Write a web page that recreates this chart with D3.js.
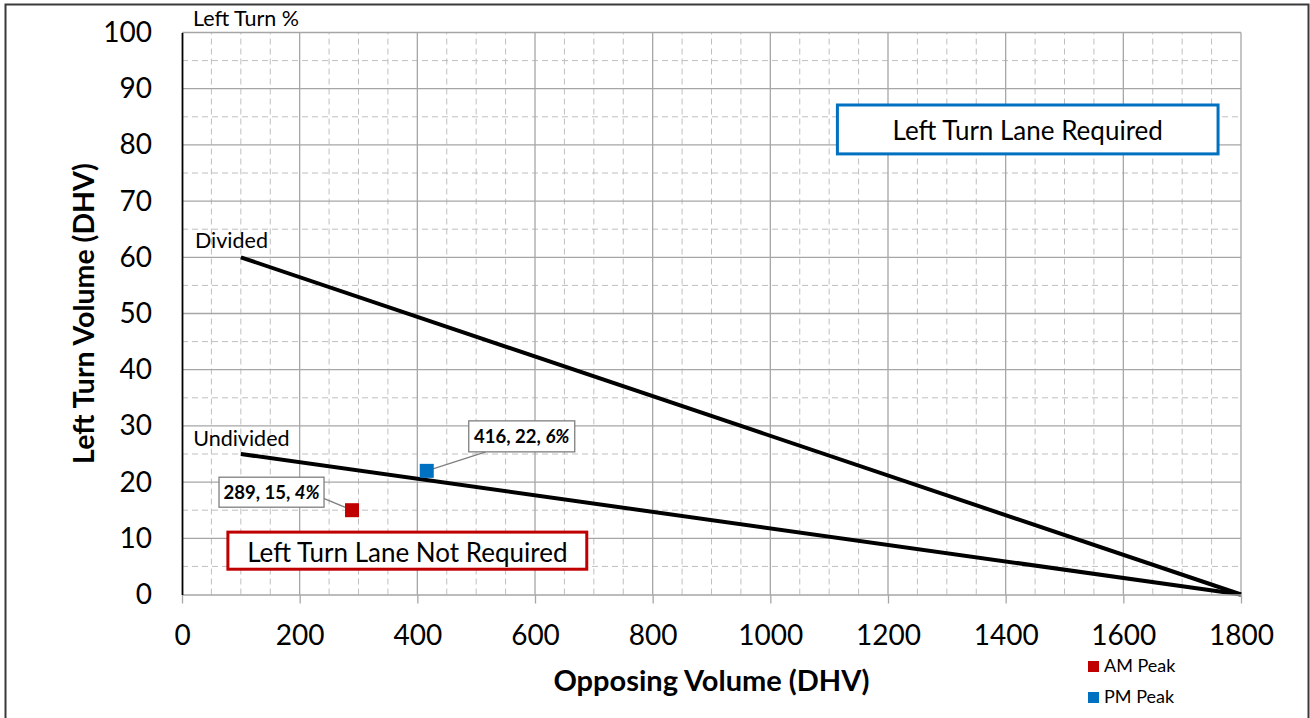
<!DOCTYPE html>
<html>
<head>
<meta charset="utf-8">
<script src="https://cdn.jsdelivr.net/npm/d3@7"></script>
<style>
  body { margin: 0; background: #fff; }
  svg { display: block; font-family: Lato, "Open Sans", sans-serif; }
</style>
</head>
<body>
<div id="chart"></div>
<script>
// threshold lines: opposing volume vs left turn volume
const divided_x = [100, 1800];
const divided_y = [60, 0];
const undivided_x = [100, 1800];
const undivided_y = [25, 0];

// observed peaks
const peak_names = ["AM Peak", "PM Peak"];
const peak_x = [289, 416];
const peak_y = [15, 22];
const peak_pct = ["4%", "6%"];
const peak_colors = ["#c00000", "#0070c0"];

const x_ticks = [0, 200, 400, 600, 800, 1000, 1200, 1400, 1600, 1800];
const y_ticks = [0, 10, 20, 30, 40, 50, 60, 70, 80, 90, 100];

var width = 1310;
var height = 718;
var margin = {left: 182, right: 69, top: 32.5, bottom: 123.5};

var svg = d3.select("#chart")
    .append("svg")
    .attr("width", width)
    .attr("height", height);

// outer frame
svg.append("rect")
    .attr("x", 5.5).attr("y", 4.5)
    .attr("width", 1303).attr("height", 730)
    .attr("fill", "none")
    .attr("stroke", "#3a3a3a")
    .attr("stroke-width", 2);

var x = d3.scaleLinear().domain([0, 1800]).range([margin.left, width - margin.right]);
var y = d3.scaleLinear().domain([0, 100]).range([height - margin.bottom, margin.top]);

var g = svg.append("g");

// minor grid (dashed)
var minor_x = d3.range(50, 1800, 50).filter(d => d % 200 != 0);
var minor_y = d3.range(5, 100, 5).filter(d => d % 10 != 0);

g.append("g").selectAll("line")
    .data(minor_x).enter().append("line")
    .attr("x1", d => x(d)).attr("x2", d => x(d))
    .attr("y1", y(0)).attr("y2", y(100))
    .attr("stroke", "#bfbfbf").attr("stroke-dasharray", "6,4");

g.append("g").selectAll("line")
    .data(minor_y).enter().append("line")
    .attr("x1", x(0)).attr("x2", x(1800))
    .attr("y1", d => y(d)).attr("y2", d => y(d))
    .attr("stroke", "#bfbfbf").attr("stroke-dasharray", "6,4");

// major grid
g.append("g").selectAll("line")
    .data(x_ticks.slice(1)).enter().append("line")
    .attr("x1", d => x(d)).attr("x2", d => x(d))
    .attr("y1", y(0)).attr("y2", y(100))
    .attr("stroke", "#a6a6a6").attr("stroke-width", 1.3);

g.append("g").selectAll("line")
    .data(y_ticks.slice(1)).enter().append("line")
    .attr("x1", x(0)).attr("x2", x(1800))
    .attr("y1", d => y(d)).attr("y2", d => y(d))
    .attr("stroke", "#a6a6a6").attr("stroke-width", 1.3);

// x axis
var xAxis = svg.append("g")
    .attr("transform", "translate(0," + y(0) + ")")
    .call(d3.axisBottom(x).tickValues(x_ticks).tickFormat(d3.format("d")).tickSize(9).tickSizeOuter(0));
xAxis.select(".domain").attr("stroke", "#a6a6a6").attr("stroke-width", 1.5);
xAxis.selectAll(".tick line").attr("stroke", "#a6a6a6").attr("stroke-width", 1.3);
xAxis.selectAll("text")
    .attr("y", 50).attr("dy", 0)
    .attr("font-size", 28).attr("fill", "#000")
    .style("font-family", "Lato, sans-serif");

// y axis
var yAxis = svg.append("g")
    .attr("transform", "translate(" + x(0) + ",0)")
    .call(d3.axisLeft(y).tickValues(y_ticks).tickSize(0).tickSizeOuter(0).tickPadding(30));
yAxis.select(".domain").attr("stroke", "#000").attr("stroke-width", 1.8);
yAxis.selectAll("text")
    .attr("font-size", 28).attr("fill", "#000")
    .style("font-family", "Lato, sans-serif");

// axis titles
svg.append("text")
    .attr("x", (x(0) + x(1800)) / 2)
    .attr("y", 691)
    .attr("text-anchor", "middle")
    .attr("font-size", 29).attr("font-weight", "bold")
    .text("Opposing Volume (DHV)");

svg.append("text")
    .attr("transform", "translate(94," + (y(0) + y(100)) / 2 + ") rotate(-90)")
    .attr("text-anchor", "middle")
    .attr("font-size", 28.5).attr("font-weight", "bold")
    .text("Left Turn Volume (DHV)");

svg.append("text")
    .attr("x", 193).attr("y", 26)
    .attr("font-size", 21.5)
    .text("Left Turn %");

// threshold lines
var line = d3.line().x(d => x(d[0])).y(d => y(d[1]));
var curves = [
    {name: "Divided", pts: d3.zip(divided_x, divided_y), lx: 22, ly: 61.6},
    {name: "Undivided", pts: d3.zip(undivided_x, undivided_y), lx: 19, ly: 26.5}
];

g.selectAll("path.thr")
    .data(curves).enter().append("path")
    .attr("class", "thr")
    .attr("d", d => line(d.pts))
    .attr("fill", "none")
    .attr("stroke", "#000")
    .attr("stroke-width", 4);

g.selectAll("text.thr")
    .data(curves).enter().append("text")
    .attr("class", "thr")
    .attr("x", d => x(d.lx)).attr("y", d => y(d.ly))
    .attr("font-size", 21.5)
    .text(d => d.name);

// region boxes (data coordinates)
var regions = [
    {text: "Left Turn Lane Required", x0: 1114, x1: 1761, y0: 78.4, y1: 87.1, color: "#0070c0"},
    {text: "Left Turn Lane Not Required", x0: 78, x1: 688, y0: 4.5, y1: 11.1, color: "#c00000"}
];
var rg = g.selectAll("g.region").data(regions).enter().append("g").attr("class", "region");
rg.append("rect")
    .attr("x", d => x(d.x0)).attr("y", d => y(d.y1))
    .attr("width", d => x(d.x1) - x(d.x0))
    .attr("height", d => y(d.y0) - y(d.y1))
    .attr("fill", "#fff")
    .attr("stroke", d => d.color)
    .attr("stroke-width", 3);
rg.append("text")
    .attr("x", d => (x(d.x0) + x(d.x1)) / 2)
    .attr("y", d => (y(d.y0) + y(d.y1)) / 2 + 11)
    .attr("text-anchor", "middle")
    .attr("font-size", 26)
    .text(d => d.text);

// peak points with callouts
var peaks = peak_names.map((n, i) => ({
    name: n, vx: peak_x[i], vy: peak_y[i], pct: peak_pct[i], color: peak_colors[i]
}));
// callout box placement relative to the point (pixels)
var callout = [
    {dx: -133, dy: -33, w: 105, h: 30, lx: -29, ly: -12},
    {dx: 42, dy: -50, w: 106, h: 31, lx: 59, ly: -19}
];

var pg = g.selectAll("g.peak").data(peaks).enter().append("g").attr("class", "peak");
pg.append("line")
    .attr("x1", d => x(d.vx)).attr("y1", d => y(d.vy))
    .attr("x2", (d, i) => x(d.vx) + callout[i].lx)
    .attr("y2", (d, i) => y(d.vy) + callout[i].ly)
    .attr("stroke", "#7f7f7f").attr("stroke-width", 1.3);
pg.append("rect")
    .attr("x", d => x(d.vx) - 7).attr("y", d => y(d.vy) - 7)
    .attr("width", 14).attr("height", 14)
    .attr("fill", d => d.color);
pg.append("rect")
    .attr("x", (d, i) => x(d.vx) + callout[i].dx)
    .attr("y", (d, i) => y(d.vy) + callout[i].dy)
    .attr("width", (d, i) => callout[i].w)
    .attr("height", (d, i) => callout[i].h)
    .attr("fill", "#fff")
    .attr("stroke", "#7f7f7f").attr("stroke-width", 1.3);
var lt = pg.append("text")
    .attr("x", (d, i) => x(d.vx) + callout[i].dx + callout[i].w / 2)
    .attr("y", (d, i) => y(d.vy) + callout[i].dy + callout[i].h / 2 + 6.5)
    .attr("text-anchor", "middle")
    .attr("font-size", 18.5).attr("font-weight", "bold");
lt.append("tspan").text(d => d.vx + ", " + d.vy + ", ");
lt.append("tspan").attr("font-style", "italic").text(d => d.pct);

// legend
var leg = svg.selectAll("g.legend").data(peaks).enter().append("g")
    .attr("class", "legend")
    .attr("transform", (d, i) => "translate(1088," + (661 + i * 31) + ")");
leg.append("rect").attr("width", 11).attr("height", 11).attr("fill", d => d.color);
leg.append("text").attr("x", 16).attr("y", 11).attr("font-size", 18).text(d => d.name);
</script>
</body>
</html>
